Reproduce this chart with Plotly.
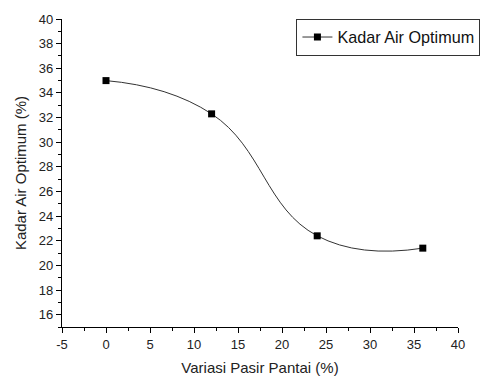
import plotly.graph_objects as go

variasi_pasir = [0, 12, 24, 36]
kadar_air = [35.0, 32.3, 22.4, 21.4]
series_name = "Kadar Air Optimum"
x_tickvals = [-5, 0, 5, 10, 15, 20, 25, 30, 35, 40]
x_ticktext = ["-5", "0", "5", "10", "15", "20", "25", "30", "35", "40"]

fig = go.Figure()
fig.add_trace(go.Scatter(
    x=variasi_pasir, y=kadar_air, name=series_name,
    mode="lines+markers",
    line=dict(color="#333333", width=1, shape="spline", smoothing=1.3),
    marker=dict(symbol="square", size=7, color="black"),
    showlegend=True,
))

font = "Liberation Sans, Arial, sans-serif"
axis_common = dict(
    showline=True, linecolor="black", linewidth=1.2,
    ticks="outside", ticklen=5, tickwidth=1, tickcolor="black",
    showgrid=False, zeroline=False, mirror=False,
    tickfont=dict(family=font, size=13, color="#222"),
)
fig.update_xaxes(range=[-5, 40], tickmode="array", tickvals=x_tickvals, ticktext=x_ticktext,
                 minor=dict(ticks="outside", ticklen=3, tickwidth=1, tickcolor="black",
                            showgrid=False, tickmode="linear", tick0=0, dtick=2.5),
                 title=dict(text="Variasi Pasir Pantai (%)", font=dict(family=font, size=15, color="#222"), standoff=11),
                 **axis_common)
fig.update_yaxes(range=[15, 40], dtick=2, tick0=0,
                 minor=dict(ticks="outside", ticklen=3, tickwidth=1, tickcolor="black",
                            showgrid=False, dtick=1),
                 title=dict(text="Kadar Air Optimum (%)", font=dict(family=font, size=15, color="#222"), standoff=8),
                 **axis_common)

fig.update_layout(
    width=494, height=385,
    margin=dict(l=62, r=36, t=15, b=52),
    plot_bgcolor="white", paper_bgcolor="white",
    legend=dict(x=0.592, y=1.0, xanchor="left", yanchor="top",
                bordercolor="#333", borderwidth=1, bgcolor="white",
                font=dict(family=font, size=16.2, color="#111"),
                itemwidth=30, tracegroupgap=0),
)
fig.write_html("out.html")
